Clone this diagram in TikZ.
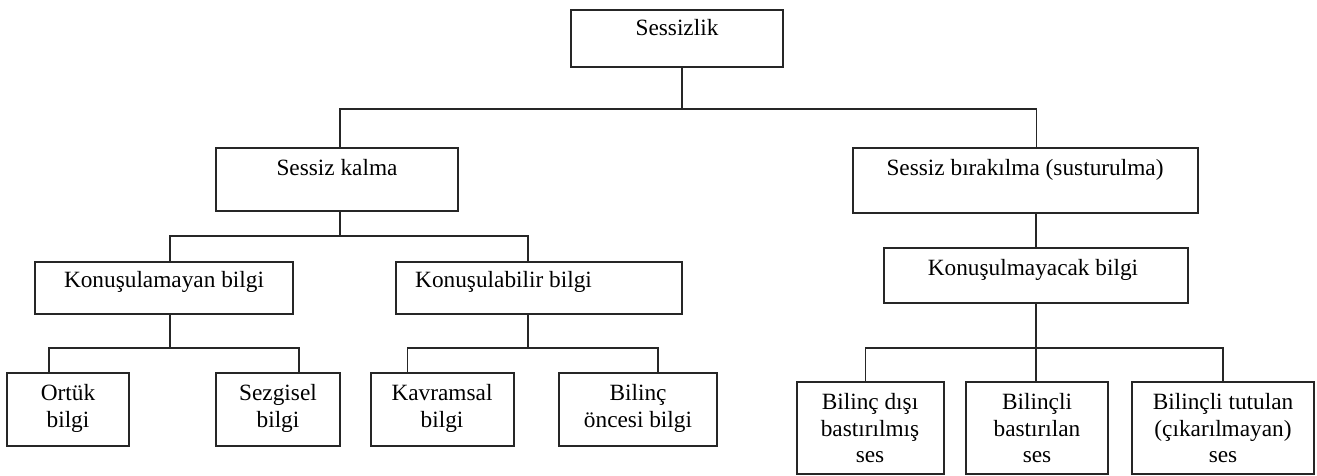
\documentclass[tikz,border=0pt]{standalone}
\usepackage{fontspec}
\setmainfont{Liberation Serif}
\usetikzlibrary{fit}
\tikzset{
  box/.style={draw=black!85, line width=1.8pt, inner sep=0pt, fill=none},
  txt/.style={font=\fontsize{23.3}{26.5}\selectfont, inner sep=0pt, align=center, text=black},
  conn/.style={draw=black!85, line width=1.8pt}
}
\begin{document}
\begin{tikzpicture}[x=1pt,y=-1pt]
\useasboundingbox (0,0) rectangle (1317,475);
% boxes
\node[box, fit={(571,10)(783,67)}] (root) {};
\node[box, fit={(216,148)(458,211)}] (sk) {};
\node[box, fit={(853,148)(1198,213)}] (sb) {};
\node[box, fit={(35,262)(293,314)}] (ku) {};
\node[box, fit={(396,262)(682,314)}] (kb) {};
\node[box, fit={(884,248)(1188,303)}] (km) {};
\node[box, fit={(7,373)(129,446)}] (ort) {};
\node[box, fit={(216,373)(340,446)}] (sez) {};
\node[box, fit={(371,373)(514,446)}] (kav) {};
\node[box, fit={(559,373)(717,446)}] (bon) {};
\node[box, fit={(797,382)(944,474)}] (bd) {};
\node[box, fit={(966,382)(1108,474)}] (bl) {};
\node[box, fit={(1132,382)(1314,474)}] (bt) {};
% texts
\node[txt, anchor=mid] (roott) at (677,33) {Sessizlik};
\node[txt, anchor=mid] (skt) at (337,173) {Sessiz kalma};
\node[txt, anchor=mid] (sbt) at (1025,173) {Sessiz bırakılma (susturulma)};
\node[txt, anchor=mid] (kut) at (164,285) {Konuşulamayan bilgi};
\node[txt, anchor=mid west] (kbt) at (415,285) {Konuşulabilir bilgi};
\node[txt, anchor=mid] (kmt) at (1033,273) {Konuşulmayacak bilgi};
\node[txt, anchor=north] (ortt) at (68,384.5) {Ortük\\bilgi};
\node[txt, anchor=north] (sezt) at (278,384.5) {Sezgisel\\bilgi};
\node[txt, anchor=north] (kavt) at (442,384.5) {Kavramsal\\bilgi};
\node[txt, anchor=north] (bont) at (638,384.5) {Bilinç\\öncesi bilgi};
\node[txt, anchor=north] (bdt) at (870,393.5) {Bilinç dışı\\bastırılmış\\ses};
\node[txt, anchor=north] (blt) at (1037,393.5) {Bilinçli\\bastırılan\\ses};
\node[txt, anchor=north] (btt) at (1223,393.5) {Bilinçli tutulan\\(çıkarılmayan)\\ses};
% bus levels
\coordinate (l1) at (0,109);
\coordinate (l2) at (0,236);
\coordinate (l3) at (0,348);
% connectors
\draw[conn] ([xshift=5pt]root.south) -- ([xshift=5pt]root.south |- l1);
\draw[conn] ([xshift=3pt]sk.north) |- ([xshift=11pt]sb.north |- l1) -- ([xshift=11pt]sb.north);
\draw[conn] ([xshift=3pt]sk.south) -- ([xshift=3pt]sk.south |- l2);
\draw[conn] ([xshift=6pt]ku.north) |- ([xshift=-11pt]kb.north |- l2) -- ([xshift=-11pt]kb.north);
\draw[conn] ([xshift=6pt]ku.south) -- ([xshift=6pt]ku.south |- l3);
\draw[conn] ([xshift=-19pt]ort.north) |- ([xshift=21pt]sez.north |- l3) -- ([xshift=21pt]sez.north);
\draw[conn] ([xshift=-11pt]kb.south) -- ([xshift=-11pt]kb.south |- l3);
\draw[conn] ([xshift=-35pt]kav.north) |- ([xshift=20pt]bon.north |- l3) -- ([xshift=20pt]bon.north);
\draw[conn] (km.north) -- (km.north |- sb.south);
\draw[conn] (km.south) -- (km.south |- l3);
\draw[conn] ([xshift=-5pt]bd.north) |- ([xshift=0pt]bt.north |- l3) -- (bt.north);
\draw[conn] ([xshift=-1pt]bl.north) -- ([xshift=-1pt]bl.north |- l3);
\end{tikzpicture}
\end{document}
